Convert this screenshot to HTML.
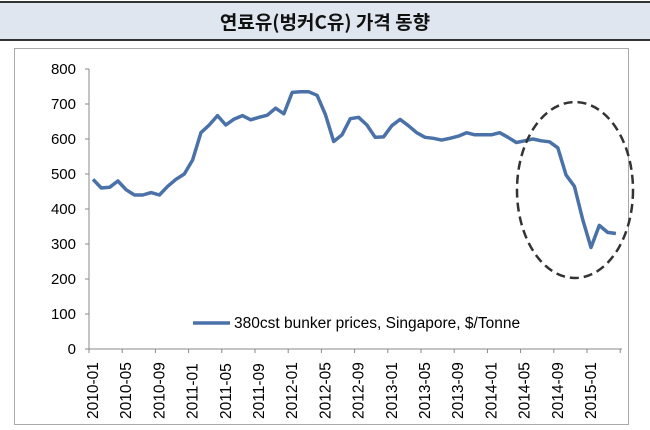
<!DOCTYPE html>
<html><head><meta charset="utf-8"><style>
body{margin:0;width:650px;height:430px;background:#fff;overflow:hidden;font-family:"Liberation Sans","Noto Sans CJK KR",sans-serif}
</style></head><body>
<svg width="650" height="430" xmlns="http://www.w3.org/2000/svg" style="position:absolute;left:0;top:0">
<rect x="0" y="2" width="650" height="38" fill="#dfe6ef"/>
<line x1="0" y1="2" x2="650" y2="2" stroke="#333" stroke-width="2"/>
<line x1="0" y1="40" x2="650" y2="40" stroke="#333" stroke-width="2"/>
<text x="325" y="29" text-anchor="middle" font-size="19" font-weight="bold" fill="#111" font-family="'Noto Sans CJK KR',sans-serif">연료유(벙커C유) 가격 동향</text>
<rect x="14.5" y="48.5" width="614" height="376" fill="#fff" stroke="#aaa"/>
<g font-size="15" fill="#000" text-anchor="end">
<text x="76" y="74">800</text><text x="76" y="109">700</text><text x="76" y="144">600</text><text x="76" y="179">500</text><text x="76" y="214">400</text><text x="76" y="249">300</text><text x="76" y="284">200</text><text x="76" y="319">100</text><text x="76" y="354">0</text>
</g>
<g stroke="#888" stroke-width="1">
<line x1="89" y1="69" x2="89" y2="349"/><line x1="89" y1="349" x2="622" y2="349"/>
<line x1="85" y1="69" x2="89" y2="69"/><line x1="85" y1="104" x2="89" y2="104"/><line x1="85" y1="139" x2="89" y2="139"/><line x1="85" y1="174" x2="89" y2="174"/><line x1="85" y1="209" x2="89" y2="209"/><line x1="85" y1="244" x2="89" y2="244"/><line x1="85" y1="279" x2="89" y2="279"/><line x1="85" y1="314" x2="89" y2="314"/><line x1="85" y1="349" x2="89" y2="349"/>
</g>
<g id="xl" font-size="15.5" fill="#000"></g>
<polyline id="ln" fill="none" stroke="#4a72a8" stroke-width="3.5" stroke-linejoin="round"/>
<ellipse cx="575" cy="190" rx="58" ry="88" fill="none" stroke="#333" stroke-width="2.5" stroke-dasharray="9,5"/>
<line x1="193" y1="323" x2="230" y2="323" stroke="#4a72a8" stroke-width="3.5"/>
<text x="234" y="328" font-size="15.5" fill="#000">380cst bunker prices, Singapore, $/Tonne</text>
<g id="tk" stroke="#888"></g>
</svg>
<script>
var v=[485,460,462,480,455,440,440,447,440,465,485,500,540,618,640,667,640,657,667,655,662,668,688,672,733,735,735,725,670,593,612,658,662,640,605,606,638,656,638,618,605,602,597,602,608,618,612,612,612,618,605,590,595,600,595,592,575,497,465,370,290,353,333,330];
var p=v.map(function(y,i){return (93+8.3*i).toFixed(1)+","+(349-y*0.35).toFixed(1)}).join(" ");
document.getElementById("ln").setAttribute("points",p);
var ns="http://www.w3.org/2000/svg",xl=document.getElementById("xl"),tk=document.getElementById("tk");
var labs=["2010-01","2010-05","2010-09","2011-01","2011-05","2011-09","2012-01","2012-05","2012-09","2013-01","2013-05","2013-09","2014-01","2014-05","2014-09","2015-01"];
labs.forEach(function(l,k){var x=93+8.3*4*k;var t=document.createElementNS(ns,"text");t.setAttribute("transform","translate("+(x+5)+",419) rotate(-90)");t.textContent=l;xl.appendChild(t);});
for(var i=0;i<=64;i+=4){var x=89+8.3*i;var L=document.createElementNS(ns,"line");L.setAttribute("x1",x);L.setAttribute("x2",x);L.setAttribute("y1",349);L.setAttribute("y2",353);tk.appendChild(L);}
</script>
</body></html>
